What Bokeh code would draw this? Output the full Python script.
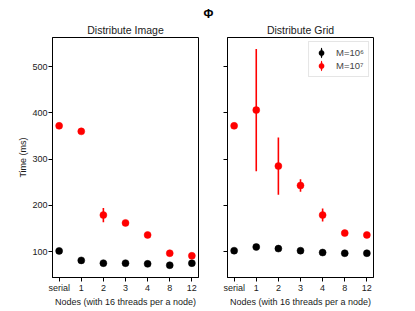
from bokeh.plotting import figure
from bokeh.layouts import row
from bokeh.models import ColumnDataSource, Legend, LegendItem, Title, FixedTicker
from bokeh.embed import file_html
from bokeh.resources import INLINE

FONT = "Liberation Sans"

nodes = ["serial", "1", "2", "3", "4", "8", "12"]
xpos = list(range(len(nodes)))
yticks = [100, 200, 300, 400, 500]

img_m6 = [101.5, 81, 75, 75, 73.5, 70.5, 75]
img_m6_err = [2, 2, 2, 2, 2, 2, 2]
img_m7 = [372, 360, 179, 162, 136, 96.5, 91]
img_m7_err = [3, 3, 15.5, 4, 4, 3, 3]

grid_m6 = [102, 110, 106.5, 102, 98, 96.5, 96.5]
grid_m6_err = [2, 2, 2, 2, 2, 2, 2]
grid_m7 = [372, 406, 285, 243, 179, 140, 136]
grid_m7_err = [3, 132, 62, 13.5, 14, 3, 3]

BLACK = "#000000"
RED = "#ff0000"
TXT = "#1a1a1a"


def make(title, m6, m6e, m7, m7e, left):
    p = figure(
        width=200 if left else 193, height=311,
        x_range=(-0.3, 6.3), y_range=(44, 563),
        output_backend="svg", toolbar_location=None,
        min_border_left=52 if left else 27, min_border_right=2 if left else 20,
        min_border_top=37, min_border_bottom=34,
    )
    p.background_fill_color = "white"
    p.border_fill_color = "white"
    p.xgrid.visible = False
    p.ygrid.visible = False
    p.outline_line_color = BLACK
    p.outline_line_width = 1
    p.add_layout(Title(text=title, align="center", text_font=FONT,
                       text_font_size="10.5px", text_font_style="normal",
                       text_color=TXT, standoff=3), "above")

    for ax in (p.xaxis[0], p.yaxis[0]):
        ax.axis_line_color = BLACK
        ax.major_tick_line_color = BLACK
        ax.minor_tick_line_color = None
        ax.major_tick_out = 4
        ax.major_tick_in = 0
        ax.major_label_text_font = FONT
        ax.major_label_text_font_size = "9px"
        ax.major_label_text_color = TXT
        ax.major_label_standoff = 1
        ax.axis_label_text_font = FONT
        ax.axis_label_text_font_size = "9px"
        ax.axis_label_text_font_style = "normal"
        ax.axis_label_text_color = TXT
        ax.axis_label_standoff = 1

    p.xaxis.ticker = FixedTicker(ticks=xpos)
    p.xaxis.major_label_overrides = {i: n for i, n in zip(xpos, nodes)}
    p.xaxis.axis_label = "Nodes (with 16 threads per a node)"
    p.yaxis.ticker = FixedTicker(ticks=yticks)
    if left:
        p.yaxis.axis_label = "Time (ms)"
        p.yaxis.axis_label_standoff = 1
    else:
        p.yaxis.major_label_overrides = {t: "" for t in yticks}

    rends = []
    for vals, errs, col in ((m6, m6e, BLACK), (m7, m7e, RED)):
        src = ColumnDataSource(dict(
            x=xpos, y=vals,
            lo=[v - e for v, e in zip(vals, errs)],
            hi=[v + e for v, e in zip(vals, errs)],
        ))
        p.segment(x0="x", y0="lo", x1="x", y1="hi", source=src,
                  line_color=col, line_width=1.6)
        e = p.ellipse(x="x", y="y", width=1, height=6, width_units="screen",
                      height_units="screen", source=src,
                      fill_color=col, line_color=None)
        s = p.scatter(x="x", y="y", source=src, marker="circle", size=7,
                      fill_color=col, line_color=col, line_width=0.5)
        rends.append((e, s))
    return p, rends


p1, _ = make("Distribute Image", img_m6, img_m6_err, img_m7, img_m7_err, True)
p2, r2 = make("Distribute Grid", grid_m6, grid_m6_err, grid_m7, grid_m7_err, False)

p2.add_layout(Title(text="Φ", align="left", offset=-24, text_font=FONT,
                    text_font_size="12px", text_font_style="bold",
                    text_color=BLACK, standoff=0), "above")

legend = Legend(items=[
    LegendItem(label="M=10⁶", renderers=list(r2[0])),
    LegendItem(label="M=10⁷", renderers=list(r2[1])),
], location="top_right")
legend.border_line_color = "#cccccc"
legend.border_line_width = 1
legend.background_fill_alpha = 0.8
legend.padding = 4
legend.margin = 4
legend.spacing = 0
legend.glyph_width = 16
legend.glyph_height = 13
legend.label_height = 12
legend.label_standoff = 7
legend.label_text_font = FONT
legend.label_text_font_size = "9.5px"
p2.add_layout(legend)

layout = row(p1, p2, spacing=0)
open("out.html", "w").write(file_html(layout, INLINE))
